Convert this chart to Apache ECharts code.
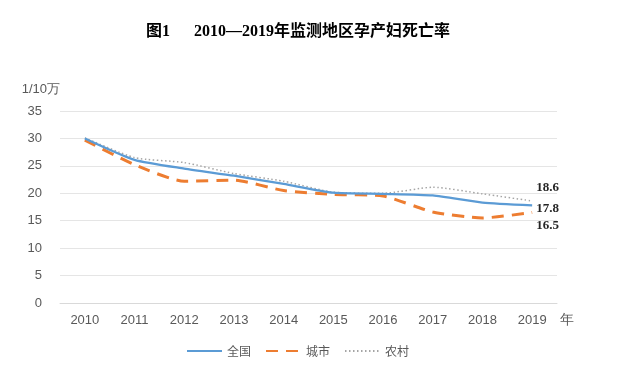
<!DOCTYPE html>
<html><head><meta charset="utf-8">
<script src="https://cdn.jsdelivr.net/npm/echarts@6/dist/echarts.min.js"></script>
<style>html,body{margin:0;padding:0;background:#fff}#c{width:617px;height:384px}</style>
</head><body><div id="c"></div>
<script>
const years = ['2010','2011','2012','2013','2014','2015','2016','2017','2018','2019'];
const national = [30.0, 26.1, 24.5, 23.2, 21.7, 20.1, 19.9, 19.6, 18.3, 17.8];
const urban = [29.7, 25.2, 22.2, 22.4, 20.5, 19.8, 19.5, 16.6, 15.5, 16.5];
const rural = [30.1, 26.5, 25.6, 23.6, 22.2, 20.2, 20.0, 21.1, 19.9, 18.6];
const yTicks = [0, 5, 10, 15, 20, 25, 30, 35];

function endLabel(offsetY) {
  return {show: true, offset: [0, offsetY], distance: 4,
    formatter: p => p.value.toFixed(1),
    color: '#262626', fontSize: 13, fontWeight: 'bold', fontFamily: 'Liberation Serif, serif'};
}

const chart = echarts.init(document.getElementById('c'));
chart.setOption({
  animation: false,
  title: {
    text: '图1\u3000  2010\u20142019年监测地区孕产妇死亡率',
    left: 141, top: 19,
    textStyle: {fontSize: 16, fontWeight: 'bold', color: '#000', fontFamily: 'Liberation Serif, "Noto Sans CJK SC", serif'}
  },
  legend: {
    bottom: 22, left: 181, itemWidth: 35, itemHeight: 10, itemGap: 14,
    itemStyle: {opacity: 0},
    textStyle: {color: '#595959', fontSize: 12, fontFamily: '"Noto Sans CJK SC", sans-serif'},
    data: ['全国', '城市', '农村']
  },
  grid: {left: 60, right: 60, top: 111, bottom: 81},
  xAxis: {
    type: 'category', data: years, boundaryGap: true,
    name: '年', nameLocation: 'end', nameGap: 3,
    nameTextStyle: {color: '#595959', fontSize: 14, verticalAlign: 'top', padding: [10, 0, 0, 0]},
    axisLine: {show: true, lineStyle: {color: '#d9d9d9'}},
    axisTick: {show: false},
    axisLabel: {color: '#595959', fontSize: 13, margin: 11}
  },
  yAxis: {
    type: 'value', min: yTicks[0], max: yTicks[yTicks.length - 1], interval: 5,
    name: '1/10万', nameLocation: 'end', nameGap: 15,
    nameTextStyle: {color: '#595959', fontSize: 13, align: 'right', padding: [0, 0, 0, 0]},
    axisLine: {show: false}, axisTick: {show: false},
    axisLabel: {color: '#595959', fontSize: 13, margin: 18},
    splitLine: {lineStyle: {color: '#e5e5e5'}}
  },
  series: [
    {name: '全国', type: 'line', data: national, smooth: 0.2, symbol: 'none',
      endLabel: endLabel(3),
      lineStyle: {color: '#5B9BD5', width: 2.25}, itemStyle: {color: '#5B9BD5'}, z: 3},
    {name: '城市', type: 'line', data: urban, smooth: 0.2, symbol: 'none',
      endLabel: endLabel(13),
      lineStyle: {color: '#ED7D31', width: 3, type: [12, 8]}, itemStyle: {color: '#ED7D31'}, z: 2},
    {name: '农村', type: 'line', data: rural, smooth: 0.2, symbol: 'none',
      endLabel: endLabel(-13),
      lineStyle: {color: '#A5A5A5', width: 1.5, type: [1.5, 2.5]}, itemStyle: {color: '#A5A5A5'}, z: 1}
  ]
});
</script></body></html>
